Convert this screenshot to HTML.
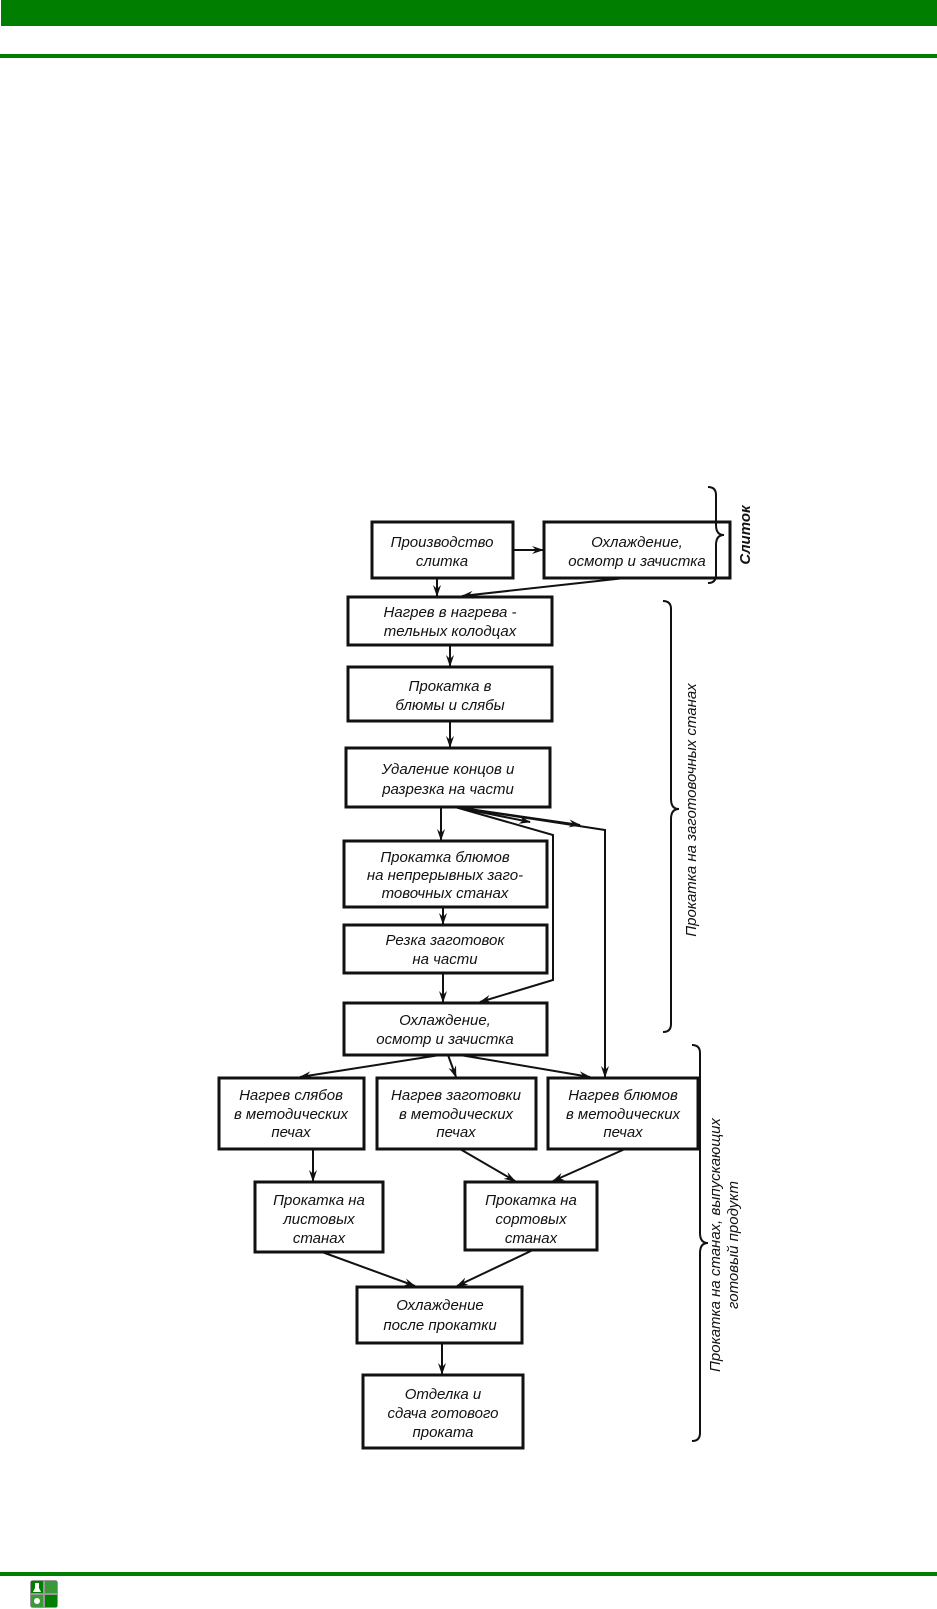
<!DOCTYPE html>
<html><head><meta charset="utf-8"><style>
html,body{margin:0;padding:0;background:#fff;width:937px;height:1609px;overflow:hidden}
svg{display:block}
text{font-family:"Liberation Sans",sans-serif;font-style:italic;font-size:15px;fill:#111;text-anchor:middle}
</style></head><body>
<svg width="937" height="1609" viewBox="0 0 937 1609">
<defs><marker id="a" markerWidth="12" markerHeight="8" refX="11" refY="4" orient="auto" markerUnits="userSpaceOnUse"><path d="M0,0 L12,4 L0,8 L4,4 Z" fill="#111"/></marker></defs>
<rect x="1" y="0" width="936" height="26" fill="#007e00"/>
<rect x="0" y="54" width="937" height="4" fill="#007e00"/>
<rect x="0" y="1572" width="937" height="4" fill="#007e00"/>
<g transform="translate(30,1580)"><rect width="28" height="28" rx="3" fill="#999"/><rect x="1" y="1" width="12" height="12" fill="#007e00"/><rect x="15" y="1" width="12" height="12" fill="#3a9a3a"/><rect x="1" y="15" width="12" height="12" fill="#3a9a3a"/><rect x="15" y="15" width="12" height="12" fill="#007e00"/><path d="M5,3 h4 v5 l2,4 h-8 l2,-4z" fill="#fff"/><circle cx="7" cy="21" r="3" fill="#fff"/></g>

<g fill="none" stroke="#111" stroke-width="3">
<rect x="372" y="522" width="141" height="56"/>
<rect x="544" y="522" width="186" height="56"/>
<rect x="348" y="597" width="204" height="48"/>
<rect x="348" y="667" width="204" height="54"/>
<rect x="346" y="748" width="204" height="59"/>
<rect x="344" y="841" width="203" height="66"/>
<rect x="344" y="925" width="203" height="48"/>
<rect x="344" y="1003" width="203" height="52"/>
<rect x="219" y="1078" width="145" height="71"/>
<rect x="377" y="1078" width="159" height="71"/>
<rect x="548" y="1078" width="150" height="71"/>
<rect x="255" y="1182" width="128" height="70"/>
<rect x="465" y="1182" width="132" height="68"/>
<rect x="357" y="1287" width="165" height="56"/>
<rect x="363" y="1375" width="160" height="73"/>
</g>
<g fill="none" stroke="#111" stroke-width="2">
<line x1="513" y1="550" x2="543" y2="550" marker-end="url(#a)"/>
<line x1="437" y1="578" x2="437" y2="596" marker-end="url(#a)"/>
<line x1="625" y1="578" x2="462" y2="596" marker-end="url(#a)"/>
<line x1="450" y1="645" x2="450" y2="666" marker-end="url(#a)"/>
<line x1="450" y1="721" x2="450" y2="747" marker-end="url(#a)"/>
<line x1="441" y1="807" x2="441" y2="840" marker-end="url(#a)"/>
<line x1="443" y1="907" x2="443" y2="924" marker-end="url(#a)"/>
<line x1="443" y1="973" x2="443" y2="1002" marker-end="url(#a)"/>
<polyline points="455,807 553,835 553,980 480,1002" marker-end="url(#a)"/>
<line x1="455" y1="807" x2="530" y2="822" marker-end="url(#a)"/>
<line x1="455" y1="807" x2="580" y2="825" marker-end="url(#a)"/>
<polyline points="455,807 605,830 605,1077" marker-end="url(#a)"/>
<line x1="440" y1="1055" x2="300" y2="1077" marker-end="url(#a)"/>
<line x1="448" y1="1055" x2="456" y2="1077" marker-end="url(#a)"/>
<line x1="460" y1="1055" x2="590" y2="1077" marker-end="url(#a)"/>
<line x1="313" y1="1149" x2="313" y2="1181" marker-end="url(#a)"/>
<line x1="460" y1="1149" x2="515" y2="1181" marker-end="url(#a)"/>
<line x1="625" y1="1149" x2="553" y2="1181" marker-end="url(#a)"/>
<line x1="322" y1="1252" x2="415" y2="1286" marker-end="url(#a)"/>
<line x1="533" y1="1250" x2="457" y2="1286" marker-end="url(#a)"/>
<line x1="442" y1="1343" x2="442" y2="1374" marker-end="url(#a)"/>
<path d="M708,487 q8,0 8,8 v30 q0,10 8,10 q-8,0 -8,10 v30 q0,8 -8,8"/>
<path d="M663,601 q8,0 8,8 v190 q0,10 8,10 q-8,0 -8,10 v205 q0,8 -8,8"/>
<path d="M692,1045 q8,0 8,8 v180 q0,10 8,10 q-8,0 -8,10 v180 q0,8 -8,8"/>
</g>
<g>
<text x="442" y="547">Производство</text><text x="442" y="566">слитка</text>
<text x="637" y="547">Охлаждение,</text><text x="637" y="566">осмотр и зачистка</text>
<text x="450" y="617">Нагрев в нагрева -</text><text x="450" y="636">тельных колодцах</text>
<text x="450" y="691">Прокатка в</text><text x="450" y="710">блюмы и слябы</text>
<text x="448" y="774">Удаление концов и</text><text x="448" y="794">разрезка на части</text>
<text x="445" y="862">Прокатка блюмов</text><text x="445" y="880">на непрерывных заго-</text><text x="445" y="898">товочных станах</text>
<text x="445" y="945">Резка заготовок</text><text x="445" y="964">на части</text>
<text x="445" y="1025">Охлаждение,</text><text x="445" y="1044">осмотр и зачистка</text>
<text x="291" y="1100">Нагрев слябов</text><text x="291" y="1119">в методических</text><text x="291" y="1137">печах</text>
<text x="456" y="1100">Нагрев заготовки</text><text x="456" y="1119">в методических</text><text x="456" y="1137">печах</text>
<text x="623" y="1100">Нагрев блюмов</text><text x="623" y="1119">в методических</text><text x="623" y="1137">печах</text>
<text x="319" y="1205">Прокатка на</text><text x="319" y="1224">листовых</text><text x="319" y="1243">станах</text>
<text x="531" y="1205">Прокатка на</text><text x="531" y="1224">сортовых</text><text x="531" y="1243">станах</text>
<text x="440" y="1310">Охлаждение</text><text x="440" y="1330">после прокатки</text>
<text x="443" y="1399">Отделка и</text><text x="443" y="1418">сдача готового</text><text x="443" y="1437">проката</text>
<text transform="translate(750,535) rotate(-90)" style="font-weight:bold">Слиток</text>
<text transform="translate(696,810) rotate(-90)">Прокатка на заготовочных станах</text>
<text transform="translate(720,1245) rotate(-90)">Прокатка на станах, выпускающих</text>
<text transform="translate(738,1245) rotate(-90)">готовый продукт</text>
</g>
</svg>
</body></html>
